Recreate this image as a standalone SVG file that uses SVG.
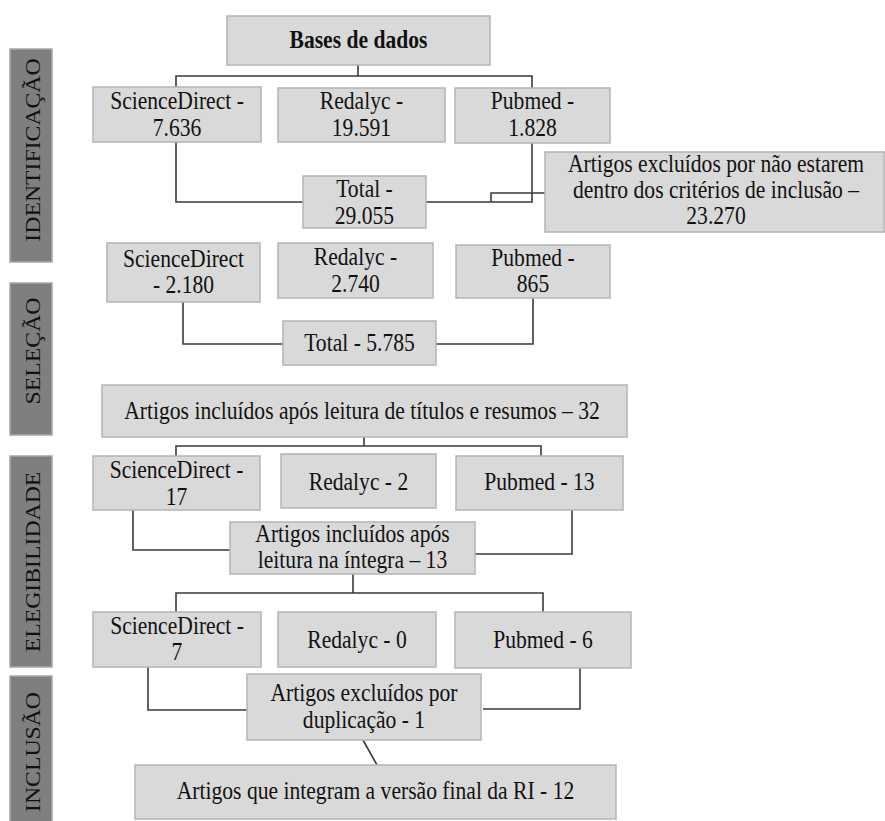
<svg xmlns="http://www.w3.org/2000/svg" width="885" height="821" viewBox="0 0 885 821">
<style>
.box{fill:#d9d9d9;stroke:#b4b4b4;stroke-width:1.5}
.side{fill:#7f7f7f;stroke:#a8a8a8;stroke-width:1.5}
text{font-family:'Liberation Serif','Times New Roman',serif;font-size:21.6px;fill:#111111;text-anchor:middle}
.b{font-weight:bold}
.conn path{fill:none;stroke:#3a3a3a;stroke-width:1.6}
</style>
<rect width="885" height="821" fill="#ffffff"/>

<g id="stage-identificacao">
<rect class="side" x="10" y="49" width="42" height="213"/>
<text transform="translate(33,150) rotate(-90) scale(1.1,1)" x="0" y="7.3">IDENTIFICAÇÃO</text>
</g>
<g id="stage-selecao">
<rect class="side" x="10" y="283" width="42" height="152"/>
<text transform="translate(33,351) rotate(-90) scale(1.1,1)" x="0" y="7.3">SELEÇÃO</text>
</g>
<g id="stage-elegibilidade">
<rect class="side" x="10" y="456" width="42" height="211"/>
<text transform="translate(33,562) rotate(-90) scale(1.1,1)" x="0" y="7.3">ELEGIBILIDADE</text>
</g>
<g id="stage-inclusao">
<rect class="side" x="10" y="676" width="42" height="150"/>
<text transform="translate(33,752) rotate(-90) scale(1.1,1)" x="0" y="7.3">INCLUSÃO</text>
</g>

<g class="conn" id="connectors">
<path d="M358,65V76M176,87V76H532V88"/>
<path d="M176,142V202H303"/>
<path d="M426,202H532V143"/>
<path d="M491,202V193H545"/>
<path d="M183,302V344H283"/>
<path d="M436,344H533V298"/>
<path d="M364,437V446M176,456V446H541V456"/>
<path d="M133,508V550H230"/>
<path d="M572,510V554H475"/>
<path d="M353,574V593M176,612V593H543V612"/>
<path d="M148,667V710H247"/>
<path d="M580,665V709H483"/>
<path d="M363,740L377,765"/>
</g>

<g id="bases">
<rect class="box" x="227" y="16" width="263" height="49"/>
<text class="b" x="358.5" y="0" transform="translate(0,48) scale(1,1.12)">Bases de dados</text>
</g>
<g id="sd1">
<rect class="box" x="93" y="87" width="168" height="55"/>
<text x="177" y="0" transform="translate(0,109) scale(1,1.12)">ScienceDirect -</text>
<text x="177" y="0" transform="translate(0,136) scale(1,1.12)">7.636</text>
</g>
<g id="red1">
<rect class="box" x="278" y="88" width="167" height="54"/>
<text x="361.5" y="0" transform="translate(0,109) scale(1,1.12)">Redalyc -</text>
<text x="361.5" y="0" transform="translate(0,136) scale(1,1.12)">19.591</text>
</g>
<g id="pub1">
<rect class="box" x="455" y="88" width="155" height="55"/>
<text x="532.5" y="0" transform="translate(0,109) scale(1,1.12)">Pubmed -</text>
<text x="532.5" y="0" transform="translate(0,136) scale(1,1.12)">1.828</text>
</g>
<g id="total1">
<rect class="box" x="303" y="176" width="123" height="52"/>
<text x="364.5" y="0" transform="translate(0,197) scale(1,1.12)">Total -</text>
<text x="364.5" y="0" transform="translate(0,224) scale(1,1.12)">29.055</text>
</g>
<g id="excl1">
<rect class="box" x="545" y="152" width="339" height="80"/>
<text x="716" y="0" transform="translate(0,172) scale(1,1.12)">Artigos excluídos por não estarem</text>
<text x="716" y="0" transform="translate(0,198) scale(1,1.12)">dentro dos critérios de inclusão –</text>
<text x="716" y="0" transform="translate(0,224) scale(1,1.12)">23.270</text>
</g>
<g id="sd2">
<rect class="box" x="107" y="243" width="153" height="59"/>
<text x="183.5" y="0" transform="translate(0,267) scale(1,1.12)">ScienceDirect</text>
<text x="183.5" y="0" transform="translate(0,293) scale(1,1.12)">- 2.180</text>
</g>
<g id="red2">
<rect class="box" x="278" y="243" width="155" height="55"/>
<text x="355.5" y="0" transform="translate(0,265) scale(1,1.12)">Redalyc -</text>
<text x="355.5" y="0" transform="translate(0,292) scale(1,1.12)">2.740</text>
</g>
<g id="pub2">
<rect class="box" x="456" y="245" width="154" height="53"/>
<text x="533" y="0" transform="translate(0,266) scale(1,1.12)">Pubmed -</text>
<text x="533" y="0" transform="translate(0,292) scale(1,1.12)">865</text>
</g>
<g id="total2">
<rect class="box" x="283" y="321" width="153" height="44"/>
<text x="359.5" y="0" transform="translate(0,351) scale(1,1.12)">Total - 5.785</text>
</g>
<g id="incl32">
<rect class="box" x="102" y="385" width="525" height="52"/>
<text x="362" y="0" transform="translate(0,419) scale(1,1.12)">Artigos incluídos após leitura de títulos e resumos – 32</text>
</g>
<g id="sd3">
<rect class="box" x="93" y="456" width="167" height="54"/>
<text x="176.5" y="0" transform="translate(0,478) scale(1,1.12)">ScienceDirect -</text>
<text x="176.5" y="0" transform="translate(0,505) scale(1,1.12)">17</text>
</g>
<g id="red3">
<rect class="box" x="281" y="454" width="155" height="54"/>
<text x="358.5" y="0" transform="translate(0,490) scale(1,1.12)">Redalyc - 2</text>
</g>
<g id="pub3">
<rect class="box" x="456" y="456" width="167" height="54"/>
<text x="539.5" y="0" transform="translate(0,490) scale(1,1.12)">Pubmed - 13</text>
</g>
<g id="incl13">
<rect class="box" x="230" y="522" width="245" height="52"/>
<text x="352.5" y="0" transform="translate(0,542) scale(1,1.12)">Artigos incluídos após</text>
<text x="352.5" y="0" transform="translate(0,568) scale(1,1.12)">leitura na íntegra – 13</text>
</g>
<g id="sd4">
<rect class="box" x="93" y="612" width="168" height="55"/>
<text x="177" y="0" transform="translate(0,634) scale(1,1.12)">ScienceDirect -</text>
<text x="177" y="0" transform="translate(0,660) scale(1,1.12)">7</text>
</g>
<g id="red4">
<rect class="box" x="278" y="612" width="158" height="55"/>
<text x="357" y="0" transform="translate(0,648) scale(1,1.12)">Redalyc - 0</text>
</g>
<g id="pub4">
<rect class="box" x="455" y="612" width="176" height="56"/>
<text x="543" y="0" transform="translate(0,648) scale(1,1.12)">Pubmed - 6</text>
</g>
<g id="dup">
<rect class="box" x="247" y="674" width="234" height="66"/>
<text x="364" y="0" transform="translate(0,701) scale(1,1.12)">Artigos excluídos por</text>
<text x="364" y="0" transform="translate(0,728) scale(1,1.12)">duplicação - 1</text>
</g>
<g id="final">
<rect class="box" x="135" y="765" width="481" height="54"/>
<text x="375.5" y="0" transform="translate(0,799) scale(1,1.12)">Artigos que integram a versão final da RI - 12</text>
</g>
</svg>
